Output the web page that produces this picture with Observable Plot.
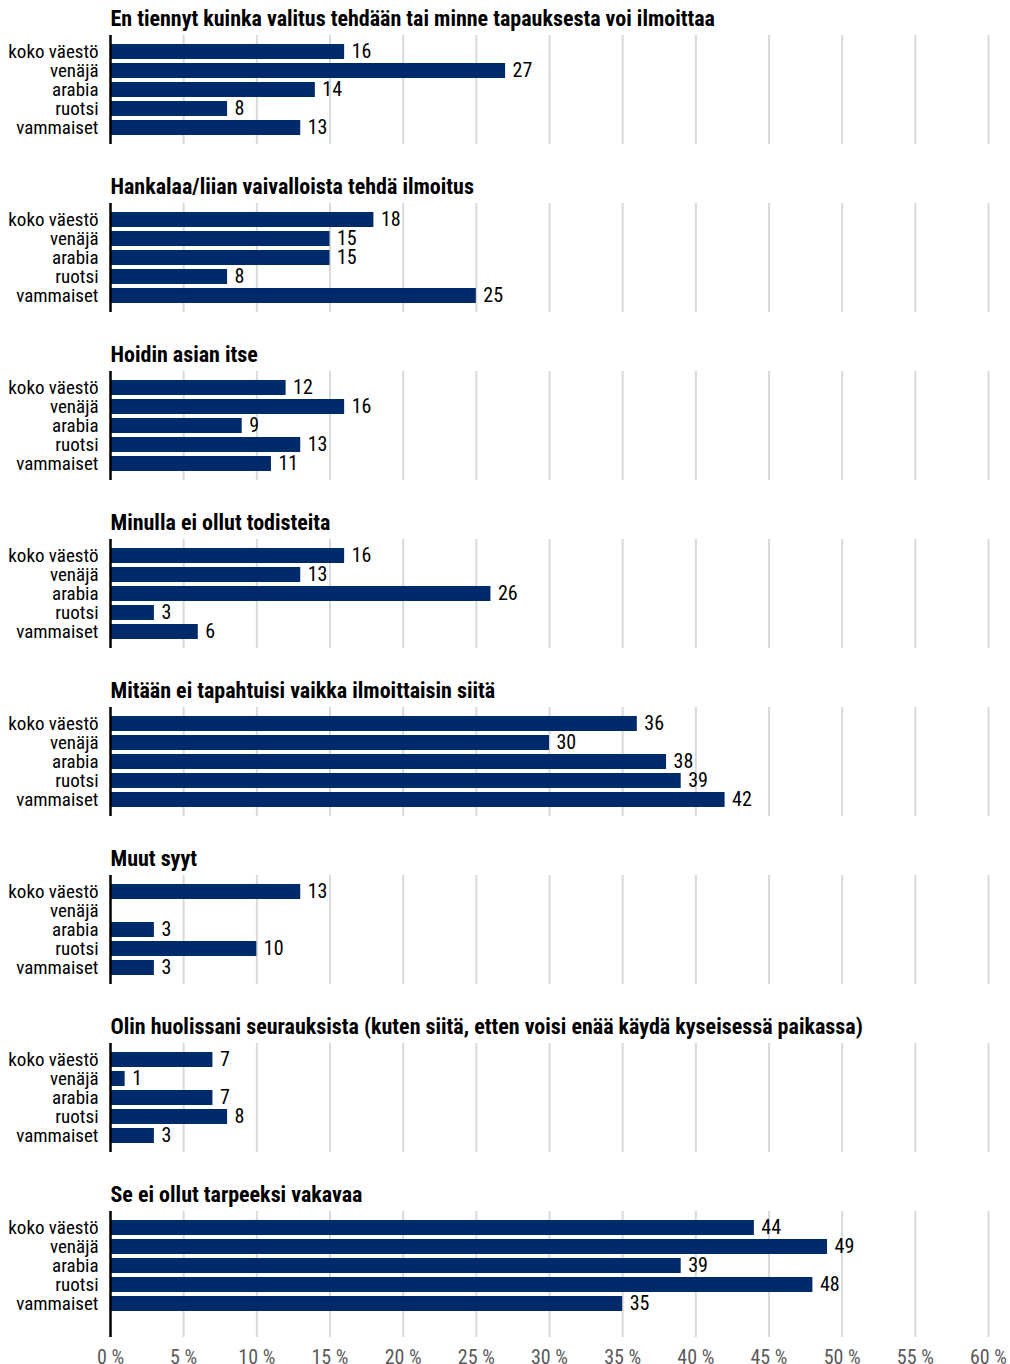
<!DOCTYPE html>
<html><head><meta charset="utf-8">
<script src="https://cdn.jsdelivr.net/npm/d3@7"></script>
<script src="https://cdn.jsdelivr.net/npm/@observablehq/plot@0.6"></script>
<style>
body{margin:0;background:#fff}
svg{display:block;font-stretch:75%}
svg text{font-stretch:75%}
</style>
</head><body><div id="chart"></div>
<script>
const FONT = 'Roboto, "Open Sans", "DejaVu Sans Condensed", sans-serif';

const questions = [
  "En tiennyt kuinka valitus tehdään tai minne tapauksesta voi ilmoittaa",
  "Hankalaa/liian vaivalloista tehdä ilmoitus",
  "Hoidin asian itse",
  "Minulla ei ollut todisteita",
  "Mitään ei tapahtuisi vaikka ilmoittaisin siitä",
  "Muut syyt",
  "Olin huolissani seurauksista (kuten siitä, etten voisi enää käydä kyseisessä paikassa)",
  "Se ei ollut tarpeeksi vakavaa"
];
const groups = ["koko väestö", "venäjä", "arabia", "ruotsi", "vammaiset"];

const kokoVaesto = [16, 18, 12, 16, 36, 13, 7, 44];
const venaja     = [27, 15, 16, 13, 30, null, 1, 49];
const arabia     = [14, 15, 9, 26, 38, 3, 7, 39];
const ruotsi     = [8, 8, 13, 3, 39, 10, 8, 48];
const vammaiset  = [13, 25, 11, 6, 42, 3, 3, 35];

const xTicks = [0, 5, 10, 15, 20, 25, 30, 35, 40, 45, 50, 55, 60];

const series = [kokoVaesto, venaja, arabia, ruotsi, vammaiset];
const data = [];
questions.forEach((q, i) => groups.forEach((g, j) => {
  const v = series[j][i];
  if (v != null) data.push({q, g, v});
}));
const titles = questions.map(q => ({q}));

const chart = Plot.plot({
  width: 1010,
  height: 1364,
  marginTop: 35,
  marginBottom: 44,
  marginLeft: 110,
  marginRight: 22,
  style: {fontFamily: FONT, fontSize: "19px", color: "#000", background: "#fff"},
  x: {domain: [0, 60], label: null},
  y: {domain: groups, paddingInner: 0.19, paddingOuter: 0.33, label: null},
  fy: {domain: questions, paddingInner: 0.352, paddingOuter: 0, label: null, axis: null},
  marks: [
    Plot.gridX({ticks: xTicks.slice(1), stroke: "#d9d9d9", strokeWidth: 2, strokeOpacity: 1}),
    Plot.barX(data, {x: "v", y: "g", fy: "q", fill: "#002a6a"}),
    Plot.ruleX([0], {stroke: "#000", strokeWidth: 2.5}),
    Plot.text(data, {x: "v", y: "g", fy: "q", text: d => String(d.v), textAnchor: "start", dx: 7, fontSize: 20, fill: "#000"}),
    Plot.text(titles, {fy: "q", text: "q", frameAnchor: "top-left", lineAnchor: "middle", dy: -17, fontWeight: "bold", fontSize: 22, fill: "#000"}),
    Plot.axisY({tickSize: 0, tickPadding: 12, fontSize: 19, fill: "#000", label: null}),
    Plot.axisX({ticks: xTicks.slice(1), tickSize: 17, stroke: "#d9d9d9", strokeWidth: 2, text: null, label: null}),
    Plot.axisX({ticks: [0], tickSize: 17, stroke: "#000", strokeWidth: 2.5, text: null, label: null}),
    Plot.axisX({ticks: xTicks, tickSize: 0, tickPadding: 29, tickFormat: d => d + " %", fontSize: 20, fill: "#5a5a5a", label: null})
  ]
});
// widen the bold facet titles slightly to match the reference typeface
chart.querySelectorAll("text[font-weight='bold']").forEach(t => t.style.letterSpacing = "0.6px");
document.getElementById("chart").append(chart);
</script>
</body></html>
